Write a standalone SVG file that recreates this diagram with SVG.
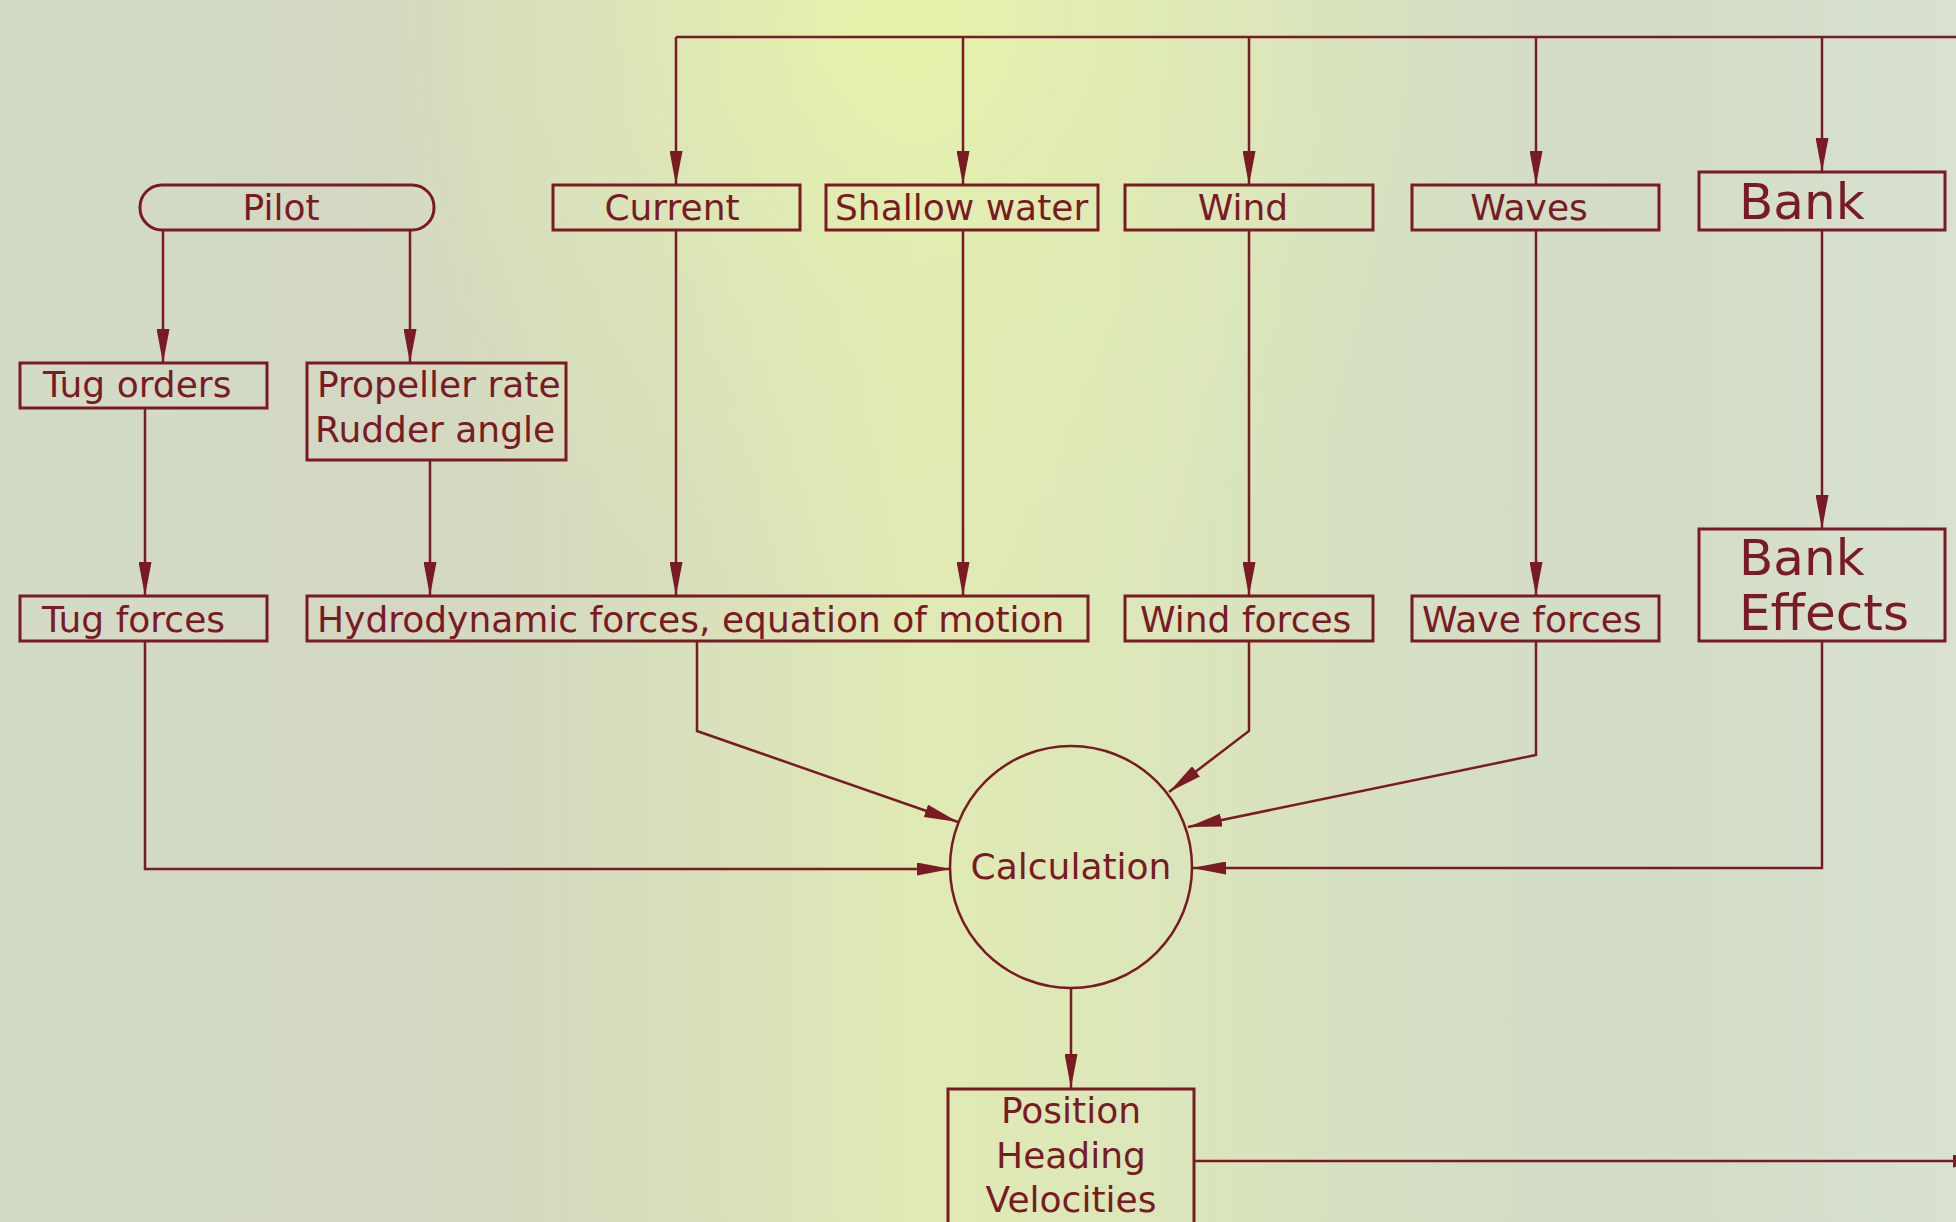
<svg xmlns="http://www.w3.org/2000/svg" width="1956" height="1222" viewBox="0 0 1956 1222">
  <defs>
    <linearGradient id="bg" x1="0" y1="0" x2="1" y2="0">
      <stop offset="0" stop-color="#d3dbc7"/>
      <stop offset="0.2" stop-color="#d2d8c2"/>
      <stop offset="0.35" stop-color="#d8dfbc"/>
      <stop offset="0.47" stop-color="#e0eab4"/>
      <stop offset="0.56" stop-color="#dde8b8"/>
      <stop offset="0.7" stop-color="#d6e0c2"/>
      <stop offset="0.85" stop-color="#d2dcc8"/>
      <stop offset="1" stop-color="#d9e2d1"/>
    </linearGradient>
    <radialGradient id="glow" cx="900" cy="20" r="600" gradientUnits="userSpaceOnUse">
      <stop offset="0" stop-color="#e6f4a8" stop-opacity="0.9"/>
      <stop offset="0.5" stop-color="#e2eeb0" stop-opacity="0.4"/>
      <stop offset="1" stop-color="#e2eeb0" stop-opacity="0"/>
    </radialGradient>
    <marker id="ah" markerUnits="userSpaceOnUse" markerWidth="34" markerHeight="13" refX="34" refY="6.5" orient="auto">
      <path d="M0,0 L34,6.5 L0,13 z" fill="#7a1a24"/>
    </marker>
    <style>
      .box { fill: none; stroke: #7a1a24; stroke-width: 3; }
      .ln { fill: none; stroke: #7a1a24; stroke-width: 2.5; }
      .arr { fill: none; stroke: #7a1a24; stroke-width: 2.5; marker-end: url(#ah); }
      text { font-family: "DejaVu Sans", "Liberation Sans", sans-serif; fill: #7a1a24; font-size: 36px; }
      .c { text-anchor: middle; }
      .big { font-size: 50px; }
    </style>
  </defs>

  <rect x="0" y="0" width="1956" height="1222" fill="url(#bg)"/>
  <rect x="0" y="0" width="1956" height="1222" fill="url(#glow)"/>

  <g id="connectors">
    <polyline class="ln" points="676,37 1956,37"/>
    <polyline class="arr" points="676,37 676,185"/>
    <polyline class="arr" points="963,37 963,185"/>
    <polyline class="arr" points="1249,37 1249,185"/>
    <polyline class="arr" points="1536,37 1536,185"/>
    <polyline class="arr" points="1822,37 1822,172"/>

    <polyline class="arr" points="163,230 163,363"/>
    <polyline class="arr" points="410,230 410,363"/>

    <polyline class="arr" points="145,408 145,596"/>
    <polyline class="arr" points="430,460 430,596"/>
    <polyline class="arr" points="676,230 676,596"/>
    <polyline class="arr" points="963,230 963,596"/>
    <polyline class="arr" points="1249,230 1249,596"/>
    <polyline class="arr" points="1536,230 1536,596"/>
    <polyline class="arr" points="1822,230 1822,529"/>

    <polyline class="arr" points="145,641 145,869 951,869"/>
    <polyline class="arr" points="697,641 697,731 958,822"/>
    <polyline class="arr" points="1249,641 1249,731 1169,792"/>
    <polyline class="arr" points="1536,641 1536,755 1188,827"/>
    <polyline class="arr" points="1822,641 1822,868 1192,868"/>

    <polyline class="arr" points="1071,988 1071,1088"/>
    <polyline class="arr" points="1194,1161 1987,1161"/>
  </g>

  <g id="pilot">
    <rect class="box" x="140" y="185" width="294" height="45" rx="22" ry="22"/>
    <text class="c" x="281" y="220">Pilot</text>
  </g>
  <g id="current">
    <rect class="box" x="553" y="185" width="247" height="45"/>
    <text class="c" x="672" y="220">Current</text>
  </g>
  <g id="shallow-water">
    <rect class="box" x="826" y="185" width="272" height="45"/>
    <text x="835" y="220">Shallow water</text>
  </g>
  <g id="wind">
    <rect class="box" x="1125" y="185" width="248" height="45"/>
    <text class="c" x="1243" y="220">Wind</text>
  </g>
  <g id="waves">
    <rect class="box" x="1412" y="185" width="247" height="45"/>
    <text class="c" x="1529" y="220">Waves</text>
  </g>
  <g id="bank">
    <rect class="box" x="1699" y="172" width="246" height="58"/>
    <text class="big" x="1739" y="219">Bank</text>
  </g>

  <g id="tug-orders">
    <rect class="box" x="20" y="363" width="247" height="45"/>
    <text x="43" y="397">Tug orders</text>
  </g>
  <g id="propeller-rudder">
    <rect class="box" x="307" y="363" width="259" height="97"/>
    <text x="317" y="397">Propeller rate</text>
    <text x="315" y="442">Rudder angle</text>
  </g>

  <g id="tug-forces">
    <rect class="box" x="20" y="596" width="247" height="45"/>
    <text x="42" y="632">Tug forces</text>
  </g>
  <g id="hydrodynamic">
    <rect class="box" x="307" y="596" width="781" height="45"/>
    <text x="317" y="632">Hydrodynamic forces, equation of motion</text>
  </g>
  <g id="wind-forces">
    <rect class="box" x="1125" y="596" width="248" height="45"/>
    <text x="1140" y="632">Wind forces</text>
  </g>
  <g id="wave-forces">
    <rect class="box" x="1412" y="596" width="247" height="45"/>
    <text x="1422" y="632">Wave forces</text>
  </g>
  <g id="bank-effects">
    <rect class="box" x="1699" y="529" width="246" height="112"/>
    <text class="big" x="1739" y="575">Bank</text>
    <text class="big" x="1739" y="630">Effects</text>
  </g>

  <g id="calculation">
    <circle class="box" cx="1071" cy="867" r="121" style="stroke-width:2.5"/>
    <text class="c" x="1071" y="879">Calculation</text>
  </g>

  <g id="position">
    <rect class="box" x="948" y="1089" width="246" height="150"/>
    <text class="c" x="1071" y="1123">Position</text>
    <text class="c" x="1071" y="1168">Heading</text>
    <text class="c" x="1071" y="1212">Velocities</text>
  </g>
</svg>
